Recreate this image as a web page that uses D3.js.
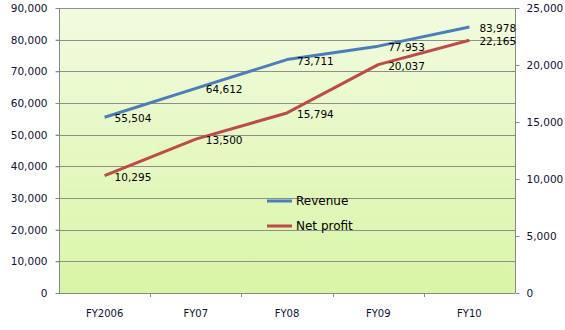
<!DOCTYPE html>
<html><head><meta charset="utf-8">
<script src="https://cdn.jsdelivr.net/npm/d3@7"></script>
<style>body{margin:0;background:#fff}svg{display:block}</style>
</head><body>
<svg id="c" width="565" height="330"></svg>
<script>
const categories = ["FY2006","FY07","FY08","FY09","FY10"];
const revenue = [55504, 64612, 73711, 77953, 83978];
const netProfit = [10295, 13500, 15794, 20037, 22165];
const leftTicks = [0,10000,20000,30000,40000,50000,60000,70000,80000,90000];
const rightTicks = [0,5000,10000,15000,20000,25000];
const seriesNames = ["Revenue","Net profit"];

const svg = d3.select("#c");
const L = 59, R = 515, T = 8, B = 293;
const font = "'DejaVu Sans', Verdana, sans-serif";

const defs = svg.append("defs");
const g = defs.append("linearGradient").attr("id","bg").attr("x1",0).attr("y1",0).attr("x2",0).attr("y2",1);
g.append("stop").attr("offset","0%").attr("stop-color","#f2fbdf");
g.append("stop").attr("offset","100%").attr("stop-color","#d8f5a6");

svg.append("rect").attr("x",L).attr("y",T).attr("width",R-L).attr("height",B-T).attr("fill","url(#bg)");

const x = d3.scaleBand().domain(categories).range([L,R]);
const yL = d3.scaleLinear().domain([0,90000]).range([B,T]);
const yR = d3.scaleLinear().domain([0,25000]).range([B,T]);
const fmt = d3.format(",");

// gridlines
svg.append("g").selectAll("line").data(leftTicks.filter(d=>d>0)).join("line")
  .attr("x1",L-3).attr("x2",R).attr("y1",d=>Math.round(yL(d))+0.5).attr("y2",d=>Math.round(yL(d))+0.5)
  .attr("stroke","#8e8e8e").attr("stroke-width",1);

// left axis
const ax = svg.append("g").attr("transform",`translate(${L+0.5},0)`)
  .call(d3.axisLeft(yL).tickValues(leftTicks).tickFormat(fmt).tickSize(4).tickPadding(8));
ax.select(".domain").attr("stroke","#888").attr("d",`M0,${T}V${B}`);
ax.selectAll(".tick line").attr("stroke","#888");
ax.selectAll("text").attr("font-family",font).attr("font-size","10.5px").attr("fill","#10103a");

// right axis
const ar = svg.append("g").attr("transform",`translate(${R+0.5},0)`)
  .call(d3.axisRight(yR).tickValues(rightTicks).tickFormat(fmt).tickSize(4).tickPadding(7));
ar.select(".domain").attr("stroke","#888").attr("d",`M0,${T}V${B}`);
ar.selectAll(".tick line").attr("stroke","#888");
ar.selectAll("text").attr("font-family",font).attr("font-size","10.5px").attr("fill","#10103a");

// bottom axis
const xb = svg.append("g").attr("transform",`translate(0,${B+0.5})`)
  .call(d3.axisBottom(x).tickSize(0).tickPadding(16));
xb.select(".domain").attr("stroke","#888").attr("d",`M${L},0H${R}`);
xb.selectAll("text").attr("font-family",font).attr("font-size","10px").attr("fill","#10103a");
svg.append("g").selectAll("line").data(categories.slice(1)).join("line")
  .attr("x1",d=>Math.round(x(d))+0.5).attr("x2",d=>Math.round(x(d))+0.5)
  .attr("y1",B).attr("y2",B+4).attr("stroke","#888");

const cx = d => x(d) + x.bandwidth()/2;
const series = [
  {name: seriesNames[0], values: revenue, y: yL, color: "#4a7ebb"},
  {name: seriesNames[1], values: netProfit, y: yR, color: "#be4b48"}
];
series.forEach(s => {
  const line = d3.line().x((d,i)=>cx(categories[i])).y(d=>s.y(d));
  svg.append("path").datum(s.values).attr("d",line).attr("fill","none")
    .attr("stroke",s.color).attr("stroke-width",3).attr("stroke-linejoin","round");
});
series.forEach(s => {
  svg.append("g").selectAll("text").data(s.values).join("text")
    .attr("x",(d,i)=>cx(categories[i])+10).attr("y",d=>s.y(d)+1)
    .attr("dominant-baseline","central")
    .attr("font-family",font).attr("font-size","10.5px").attr("fill","#000")
    .text(d=>fmt(d));
});

// legend
const lg = svg.append("g");
series.forEach((s,i) => {
  const yy = 201 + i*25;
  lg.append("line").attr("x1",267).attr("x2",292).attr("y1",yy).attr("y2",yy)
    .attr("stroke",s.color).attr("stroke-width",3);
  lg.append("text").attr("x",296).attr("y",yy).attr("dominant-baseline","central")
    .attr("font-family",font).attr("font-size","12px").attr("fill","#000").text(s.name);
});
</script>
</body></html>
